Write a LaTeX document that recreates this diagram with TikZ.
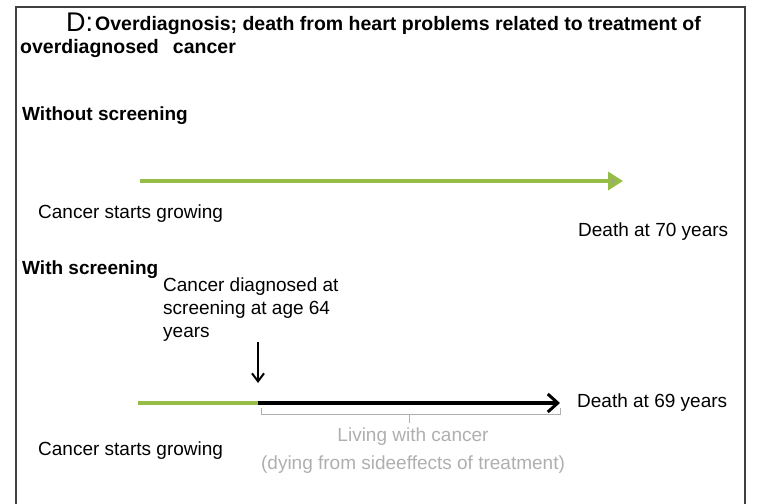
\documentclass[tikz,border=0pt]{standalone}
\usepackage{fontspec}
\setmainfont{Liberation Sans}
\usetikzlibrary{arrows.meta}
\definecolor{growgreen}{RGB}{150,190,70}
\definecolor{tipgrey}{RGB}{155,168,125}
\definecolor{notegrey}{RGB}{175,175,175}
\tikzset{
  plaintext/.style={inner sep=0pt, anchor=west, font=\fontsize{19}{22}\selectfont},
  heading/.style={inner sep=0pt, anchor=west, font=\fontsize{19}{22}\selectfont\bfseries},
  greenline/.style={line width=3.5pt, growgreen},
  blackline/.style={line width=3.5pt, black, -{Straight Barb[length=10pt,width=18pt,line width=3pt]}}
}
\begin{document}
\begin{tikzpicture}[x=1pt,y=-1pt]
  \useasboundingbox (0,0) rectangle (757,503);
  % frame
  \draw[line width=1.2pt, black!75] (16,510) -- (16,7) -- (745,7) -- (745,510);

  % title
  \node[inner sep=0pt, anchor=base west, font=\fontsize{27}{30}\selectfont] (letter) at (66,32) {D:};
  \node[inner sep=0pt, anchor=base west, font=\fontsize{19.5}{22}\selectfont\bfseries] (title) at (95,31) {Overdiagnosis; death from heart problems related to treatment of};
  \node[inner sep=0pt, anchor=base west, font=\fontsize{19.5}{22}\selectfont\bfseries] (title2) at (20,53) {overdiagnosed\;\, cancer};

  % without screening
  \node[heading] (without) at (22,116) {Without screening};
  \coordinate (startA) at (140,181);
  \coordinate (endA) at (623,181);
  \draw[greenline, -{Triangle[length=15pt,width=18pt,fill=tipgrey]}] (startA) -- (endA);
  \node[plaintext] (growA) at (38,214) {Cancer starts growing};
  \node[plaintext] (deathA) at (578,232) {Death at 70 years};

  % with screening
  \node[heading] (with) at (22,270) {With screening};
  \node[plaintext, align=left, font=\fontsize{19}{23}\selectfont] (diag) at (163,310) {Cancer diagnosed at\\screening at age 64\\years};
  \coordinate (diagpt) at (258,403);
  \coordinate (arrowtop) at (258,342);
  \coordinate (arrowtip) at (258,383);
  \draw[line width=2.2pt, -{Straight Barb[length=8pt,width=12pt,line width=2pt]}] (arrowtop) -- (arrowtip);
  \coordinate (startB) at (138,403);
  \coordinate (endB) at (560,403);
  \draw[greenline] (startB) -- (diagpt);
  \draw[blackline] (diagpt) -- (endB);
  \node[plaintext] (deathB) at (577,403) {Death at 69 years};
  \node[plaintext] (growB) at (38,451) {Cancer starts growing};

  % brace
  \draw[notegrey, line width=0.8pt] (261,408) -- (261,414) -- (560,414) -- (560,408);
  \draw[notegrey, line width=0.8pt] (409,414) -- (409,423);
  \node[inner sep=0pt, align=center, text=notegrey, font=\fontsize{19}{28}\selectfont] (living) at (413,451) {Living with cancer\\(dying from sideeffects of treatment)};
\end{tikzpicture}
\end{document}
